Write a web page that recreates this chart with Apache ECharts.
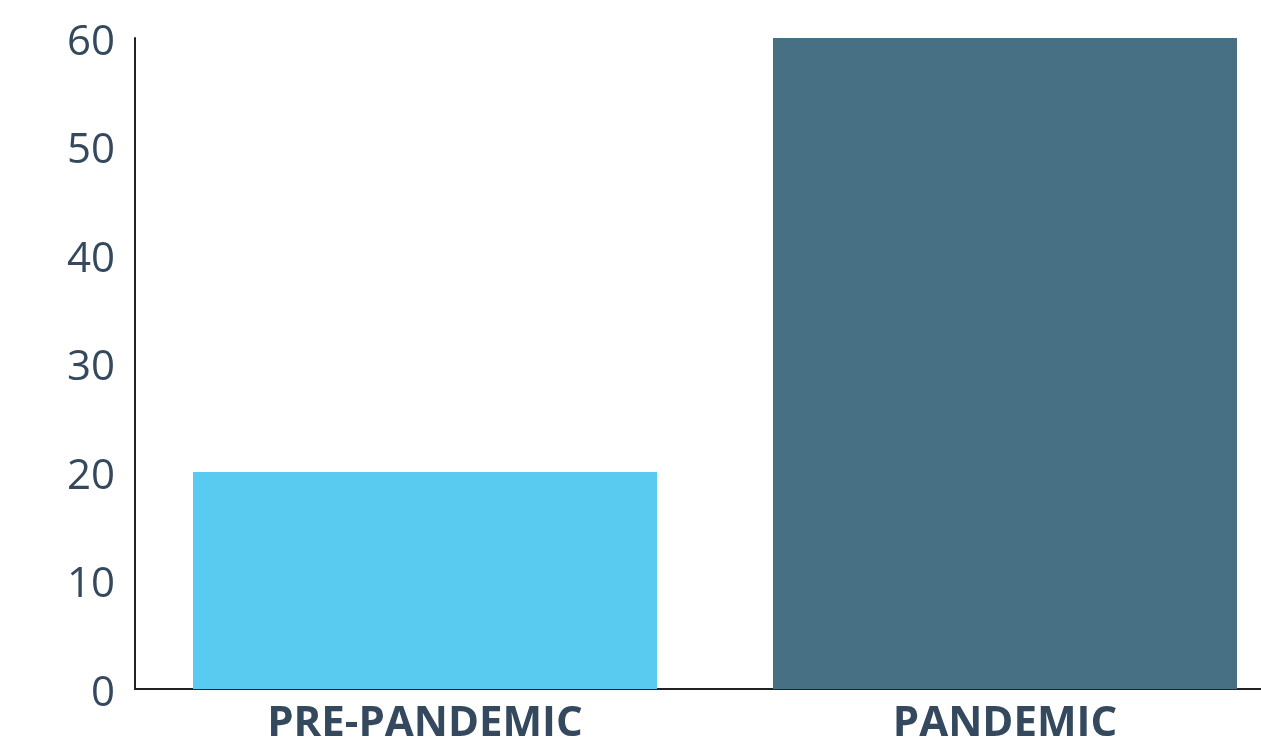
<!DOCTYPE html>
<html>
<head>
<meta charset="utf-8">
<script src="https://cdn.jsdelivr.net/npm/echarts@6/dist/echarts.min.js"></script>
<style>
  html, body { margin: 0; padding: 0; background: #fff; }
  #echartDiv { width: 1261px; height: 740px; }
</style>
</head>
<body>
<div id="echartDiv"></div>
<script>
// 数据
const categories = ["PRE-PANDEMIC", "PANDEMIC"];
const values = [20, 60];
const barColors = ["#59cbf1", "#487084"];

let chartDom = document.getElementById("echartDiv");
let myChart = echarts.init(chartDom);
let option = {
  backgroundColor: "#fff",
  animation: false,
  grid: {
    left: 135,
    top: 38,
    width: 1160,
    height: 651,
    outerBoundsMode: "none",
    containLabel: false,
  },
  xAxis: {
    type: "category",
    data: categories,
    axisLine: { lineStyle: { color: "#222", width: 2 } },
    axisTick: { show: false },
    axisLabel: {
      color: "#34495e",
      fontFamily: "Open Sans",
      fontWeight: "bold",
      fontSize: 42,
      margin: 14,
    },
  },
  yAxis: {
    type: "value",
    min: 0,
    max: 60,
    interval: 10,
    splitLine: { show: false },
    axisLine: { show: true, lineStyle: { color: "#222", width: 2 } },
    axisTick: { show: false },
    axisLabel: {
      color: "#34495e",
      fontFamily: "Open Sans",
      fontSize: 42,
      margin: 20,
      lineHeight: 10,
      verticalAlign: "top",
    },
  },
  series: [
    {
      type: "bar",
      barCategoryGap: "20%",
      data: values.map((v, i) => ({ value: v, itemStyle: { color: barColors[i] } })),
    },
  ],
};
option && myChart.setOption(option);
</script>
</body>
</html>
